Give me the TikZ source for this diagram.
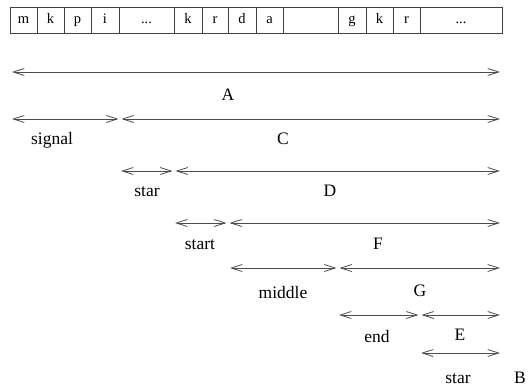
\documentclass[tikz,border=0pt]{standalone}
\usepackage{fontspec}
\setmainfont{Liberation Serif}
\usetikzlibrary{arrows.meta}
\newcommand\celldots{...}
\begin{document}
\begin{tikzpicture}[x=1pt,y=-1pt,
  cell/.style={draw=black!75,line width=0.7pt,minimum height=26pt,inner sep=0pt,
    font=\fontsize{14.5}{15}\selectfont,text height=10pt,text depth=3pt,anchor=center},
  span/.style={draw=black!70,line width=0.8pt,
    {Straight Barb[length=11pt,width=7pt]}-{Straight Barb[length=11pt,width=7pt]}},
  lbl/.style={font=\fontsize{17.5}{18}\selectfont,inner sep=0pt,anchor=base}]
\useasboundingbox (0,0) rectangle (532,389);

% memory cells along the top
\foreach \a/\b/\t [count=\i] in {10/37/m,37/64/k,64/91/p,91/119/i,119/174/\celldots,
    174/202/k,202/228/r,228/256/d,256/283/a,283/338/{},338/366/g,366/393/k,
    393/420/r,420/502/\celldots}{
  \node[cell,minimum width={\b-\a}] (c\i) at ({(\a+\b)/2},20) {\t};
}

% span end points
\coordinate (a0) at (12,72);   \coordinate (a1) at (500,72);
\coordinate (s0) at (12,119);  \coordinate (s1) at (118.5,119);
\coordinate (c0) at (121.5,119); \coordinate (c1) at (500,119);
\coordinate (t0) at (121,171); \coordinate (t1) at (172.5,171);
\coordinate (d0) at (175.5,171); \coordinate (d1) at (500,171);
\coordinate (u0) at (175,223); \coordinate (u1) at (226.5,223);
\coordinate (f0) at (229.5,223); \coordinate (f1) at (500,223);
\coordinate (m0) at (230,268); \coordinate (m1) at (336.5,268);
\coordinate (g0) at (339.5,268); \coordinate (g1) at (500,268);
\coordinate (e0) at (339,315); \coordinate (e1) at (418.5,315);
\coordinate (h0) at (421.5,315); \coordinate (h1) at (500,315);
\coordinate (r0) at (421,353); \coordinate (r1) at (500,353);

\draw[span] (a0) -- (a1);
\draw[span] (s0) -- (s1);
\draw[span] (c0) -- (c1);
\draw[span] (t0) -- (t1);
\draw[span] (d0) -- (d1);
\draw[span] (u0) -- (u1);
\draw[span] (f0) -- (f1);
\draw[span] (m0) -- (m1);
\draw[span] (g0) -- (g1);
\draw[span] (e0) -- (e1);
\draw[span] (h0) -- (h1);
\draw[span] (r0) -- (r1);

% labels
\node[lbl] (lA) at (228,100) {A};
\node[lbl] (lsig) at (52,144) {signal};
\node[lbl] (lC) at (283,144) {C};
\node[lbl] (lstar1) at (147,196) {star};
\node[lbl] (lD) at (330,196) {D};
\node[lbl] (lstart) at (200,249) {start};
\node[lbl] (lF) at (378,249) {F};
\node[lbl] (lmid) at (283,298) {middle};
\node[lbl] (lG) at (420,296) {G};
\node[lbl] (lend) at (377,342) {end};
\node[lbl] (lE) at (460,340) {E};
\node[lbl] (lstar2) at (458,383) {star};
\node[lbl] (lB) at (520,383) {B};
\end{tikzpicture}
\end{document}
